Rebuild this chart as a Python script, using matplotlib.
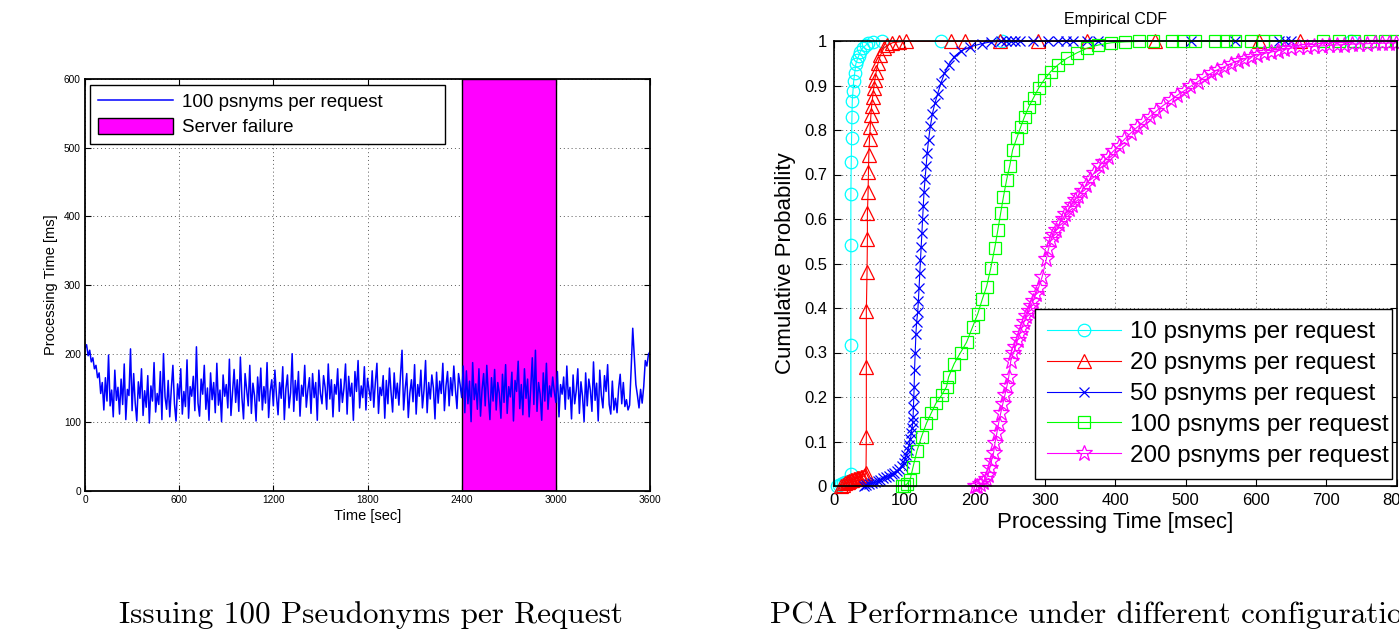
import numpy as np
import matplotlib
matplotlib.use('Agg')
import matplotlib.pyplot as plt

plt.rcParams['font.family'] = ['Liberation Sans', 'DejaVu Sans']

# ---- left panel: processing time, one sample every 10 s ----
sample_step = 10
proc_time = [
    208, 213, 197, 205, 188, 194, 178, 183, 165, 172, 142, 158, 118, 165, 131, 198, 124, 147, 108, 176,
    132, 151, 112, 163, 126, 185, 104, 148, 139, 207, 117, 171, 128, 102, 159, 135, 178, 110, 146, 122,
    168, 99, 153, 131, 187, 115, 142, 126, 174, 104, 200, 137, 119, 161, 108, 149, 183, 127, 102, 156,
    134, 178, 112, 145, 123, 191, 106, 152, 138, 167, 117, 210, 128, 109, 163, 141, 183, 119, 150, 103,
    172, 133, 158, 114, 186, 125, 147, 101, 169, 138, 155, 121, 192, 110, 144, 177, 129, 162, 116, 195,
    136, 105, 171, 148, 124, 183, 113, 157, 139, 102, 166, 131, 179, 118, 152, 128, 187, 107, 145, 162,
    124, 176, 139, 111, 158, 135, 181, 104, 149, 169, 121, 143, 200, 116, 161, 132, 174, 109, 154, 138,
    183, 122, 147, 165, 113, 171, 136, 158, 103, 176, 142, 127, 168, 151, 119, 185, 134, 162, 108, 155,
    141, 178, 116, 163, 129, 150, 185, 112, 167, 138, 157, 103, 174, 145, 190, 121, 153, 136, 181, 118,
    164, 147, 132, 175, 122, 158, 186, 113, 151, 139, 168, 106, 161, 127, 179, 144, 115, 172, 135, 157,
    125, 168, 205, 118, 149, 171, 107, 143, 162, 130, 184, 112, 155, 138, 176, 121, 147, 190, 114, 158,
    134, 169, 150, 105, 173, 128, 160, 142, 186, 117, 153, 174, 124, 165, 139, 182, 148, 120, 171, 155,
    136, 182, 114, 175, 127, 160, 101, 187, 133, 156, 119, 178, 109, 148, 171, 124, 183, 139, 104, 165,
    131, 177, 118, 158, 142, 106, 170, 129, 184, 113, 152, 137, 173, 102, 161, 145, 189, 120, 155, 111,
    178, 135, 163, 108, 149, 194, 126, 205, 116, 158, 141, 103, 172, 131, 186, 119, 153, 137, 166, 145,
    129, 174, 108, 155, 141, 166, 119, 182, 134, 151, 105, 169, 127, 146, 178, 113, 159, 138, 101, 172,
    124, 163, 147, 116, 188, 132, 157, 102, 176, 139, 121, 168, 145, 184, 126, 112, 160, 118, 135, 114,
    149, 170, 127, 158, 123, 133, 118, 125, 178, 237, 196, 155, 139, 121, 148, 128, 152, 190, 182, 199,
    203,
]
failure_start, failure_end = 2400, 3000
left_xticks = [0, 600, 1200, 1800, 2400, 3000, 3600]
left_yticks = [0, 100, 200, 300, 400, 500, 600]

# ---- right panel: empirical CDFs (msec, probability) ----
cdf10_ms = [4, 7, 10, 13, 16, 19, 21, 24, 24, 24, 24, 24.5, 25, 25.5, 26, 27, 28, 29.5, 31, 33, 35,
            37.5, 41, 45, 49, 56, 68, 152, 239, 735]
cdf10_p = [0.0, 0.002, 0.004, 0.006, 0.008, 0.01, 0.012, 0.027, 0.316, 0.542, 0.656, 0.727, 0.782,
           0.829, 0.866, 0.888, 0.910, 0.929, 0.948, 0.958, 0.966, 0.976, 0.985, 0.990, 0.996, 0.998,
           0.999, 0.9993, 0.9996, 1.0]

cdf20_ms = [10, 13, 16, 18, 20, 22, 24, 26, 28, 30, 32, 34, 36, 38, 40, 42, 44, 45.5, 46, 46, 46,
            47, 47.5, 47.5, 48.5, 49, 49.5, 50.5, 51.5, 52.5, 53.5, 55, 56.5, 58, 60, 62.5, 66, 71,
            76, 83, 92, 103, 167, 186, 236, 290, 360, 457, 605, 663]
cdf20_p = [0.0, 0.003, 0.006, 0.008, 0.01, 0.012, 0.013, 0.014, 0.015, 0.016, 0.017, 0.018, 0.019,
           0.02, 0.021, 0.022, 0.024, 0.03, 0.11, 0.267, 0.394, 0.482, 0.554, 0.613, 0.661, 0.706,
           0.744, 0.779, 0.807, 0.834, 0.854, 0.875, 0.894, 0.912, 0.931, 0.950, 0.968, 0.984, 0.990,
           0.996, 0.998, 0.999, 0.9992, 0.9994, 0.9995, 0.9996, 0.9997, 0.9998, 0.9999, 1.0]

cdf50_ms = [42, 46, 50, 54, 58, 62, 66, 70, 74, 78, 82, 86, 90, 93, 96, 99, 101, 103, 105, 107,
            108.5, 110, 111, 112, 112.5, 113, 113.5, 114, 114.5, 115.5, 116.5, 117.5, 119, 120, 121,
            122, 123, 124, 125, 126, 127, 128, 129.5, 131, 132.5, 134.5, 137, 140, 143.5, 147.5, 152,
            157, 163, 171, 181, 194, 210, 223, 237, 245, 252, 258, 264, 283, 305, 318, 330, 340, 360,
            376, 508, 571, 633, 641, 650]
cdf50_p = [0.0, 0.002, 0.004, 0.006, 0.008, 0.011, 0.014, 0.017, 0.02, 0.023, 0.026, 0.030, 0.034,
           0.039, 0.045, 0.052, 0.06, 0.07, 0.08, 0.092, 0.105, 0.118, 0.13, 0.143, 0.155, 0.178, 0.2,
           0.222, 0.26, 0.30, 0.342, 0.368, 0.39, 0.416, 0.446, 0.478, 0.508, 0.538, 0.568, 0.6, 0.63,
           0.66, 0.69, 0.718, 0.748, 0.778, 0.808, 0.837, 0.86, 0.882, 0.905, 0.927, 0.947, 0.965,
           0.978, 0.987, 0.994, 0.998, 0.999, 0.9991, 0.9992, 0.9993, 0.9994, 0.9995, 0.9996, 0.9997,
           0.9997, 0.9998, 0.9998, 0.9999, 0.9999, 0.9999, 1.0, 1.0, 1.0]

cdf100_ms = [96, 100, 104, 108, 112.5, 118, 124.5, 131.5, 138, 145, 153, 160, 163, 171, 180, 188.5,
             197, 204.5, 211, 217, 223, 228.5, 233, 237, 241, 245.5, 250, 254, 260, 265.5, 271, 277,
             284, 291, 299, 308, 319, 331, 345, 360, 376, 394, 414, 434, 454, 480, 497, 514, 542, 557,
             571, 593, 610, 627, 696, 718, 740, 762, 784, 799]
cdf100_p = [0.0, 0.0, 0.005, 0.013, 0.043, 0.079, 0.111, 0.141, 0.163, 0.186, 0.204, 0.223, 0.245,
            0.275, 0.30, 0.323, 0.357, 0.387, 0.42, 0.448, 0.49, 0.534, 0.575, 0.613, 0.65, 0.688,
            0.72, 0.755, 0.782, 0.807, 0.83, 0.852, 0.873, 0.894, 0.913, 0.931, 0.947, 0.961, 0.973,
            0.984, 0.991, 0.996, 0.998, 0.999, 0.9992, 0.9993, 0.9994, 0.9995, 0.9996, 0.9996, 0.9997,
            0.9997, 0.9998, 0.9998, 0.9999, 0.9999, 0.9999, 1.0, 1.0, 1.0]

cdf200_ms = [200, 204, 208, 212, 216, 219, 221.5, 224, 227, 229, 231.5, 234, 237, 240, 243, 246,
             248.5, 251.5, 255, 258, 261, 264, 267, 270, 273.5, 277, 280, 283, 287, 291, 296,
             302, 305, 308.5, 312, 316, 320, 325, 329, 334, 338, 343, 347, 352, 358, 364, 370, 377,
             383, 390, 397, 405, 413, 422, 431, 440, 449, 458, 468, 479, 488, 498, 507, 517, 526,
             536, 545, 555, 564, 574, 583, 593, 602, 612, 621, 631, 640, 650, 661, 672, 683, 694,
             704, 715, 725, 736, 747, 758, 769, 780, 790, 799]
cdf200_p = [0.0, 0.0, 0.004, 0.008, 0.015, 0.025, 0.04, 0.057, 0.075, 0.097, 0.118, 0.14, 0.163,
            0.184, 0.204, 0.225, 0.245, 0.282, 0.298, 0.312, 0.328, 0.342, 0.355, 0.368, 0.381,
            0.394, 0.405, 0.416, 0.431, 0.446, 0.47,
            0.51, 0.532, 0.553, 0.565, 0.575, 0.588, 0.6, 0.611, 0.622, 0.632, 0.643, 0.652, 0.662,
            0.676, 0.69, 0.704, 0.718, 0.729, 0.74, 0.752, 0.765, 0.779, 0.793, 0.806, 0.818, 0.830,
            0.842, 0.855, 0.867, 0.878, 0.888, 0.898, 0.908, 0.918, 0.927, 0.935, 0.942, 0.949,
            0.955, 0.960, 0.965, 0.969, 0.972, 0.975, 0.978, 0.981, 0.984, 0.9855, 0.987, 0.988,
            0.989, 0.990, 0.991, 0.992, 0.993, 0.9935, 0.994, 0.9945, 0.995, 0.9955, 0.996]

cdf_labels = ['10 psnyms per request', '20 psnyms per request', '50 psnyms per request',
              '100 psnyms per request', '200 psnyms per request']
right_yticks = [0, 0.1, 0.2, 0.3, 0.4, 0.5, 0.6, 0.7, 0.8, 0.9, 1]
right_yticklabels = ['0', '0.1', '0.2', '0.3', '0.4', '0.5', '0.6', '0.7', '0.8', '0.9', '1']
right_xticks = [0, 100, 200, 300, 400, 500, 600, 700, 800]

W, H = 1399, 631
fig = plt.figure(figsize=(W / 100, H / 100), dpi=100)


def box(x0, y0, x1, y1):
    # pixel box (top-left origin) -> figure fraction
    return [x0 / W, 1 - y1 / H, (x1 - x0) / W, (y1 - y0) / H]


grid_kw = dict(linestyle=(0, (1, 3)), color='0.35', linewidth=0.7)

# ---------------- left ----------------
ax1 = fig.add_axes(box(85, 79, 650, 491))
t = np.arange(len(proc_time)) * sample_step
ax1.set_axisbelow(True)
ax1.axvspan(failure_start, failure_end, facecolor='#ff00ff', edgecolor='black', linewidth=1.0,
            label='Server failure', zorder=1)
ax1.plot(t, proc_time, color='#0000ff', linewidth=1.1, label='100 psnyms per request', zorder=2)
ax1.set_xlim(0, 3600)
ax1.set_ylim(0, 600)
ax1.set_xticks(left_xticks)
ax1.set_yticks(left_yticks)
ax1.grid(True, **grid_kw)
ax1.tick_params(direction='in', top=True, right=True, length=4, labelsize=7.3, pad=3)
for s in ax1.spines.values():
    s.set_linewidth(1.3)
ax1.set_xlabel('Time [sec]', fontsize=10.5, labelpad=3)
ax1.set_ylabel('Processing Time [ms]', fontsize=10.5, labelpad=4)
h, l = ax1.get_legend_handles_labels()
leg1 = ax1.legend(h[::-1], l[::-1], loc='upper left', mode='expand',
                  bbox_to_anchor=(90 / W, 1 - 85 / H - 0.01, 355 / W, 0.01),
                  bbox_transform=fig.transFigure,
                  borderaxespad=0, fontsize=13.5, handlelength=4.0, handleheight=1.0,
                  labelspacing=0.33, handletextpad=0.5, borderpad=0.4,
                  fancybox=False, edgecolor='black', framealpha=1)
leg1.get_frame().set_linewidth(1.0)

# ---------------- right ----------------
ax2 = fig.add_axes(box(834, 41, 1396.5, 486))
styles = [('#00ffff', 'o', 9), ('#ff0000', '^', 10), ('#0000ff', 'x', 7.5),
          ('#00ff00', 's', 8), ('#ff00ff', '*', 12)]
series = [(cdf10_ms, cdf10_p), (cdf20_ms, cdf20_p), (cdf50_ms, cdf50_p),
          (cdf100_ms, cdf100_p), (cdf200_ms, cdf200_p)]
for (xs, ps), (c, m, ms), lab in zip(series, styles, cdf_labels):
    ax2.plot(xs, ps, color=c, marker=m, markersize=ms, markerfacecolor='none',
             markeredgewidth=0.9, linewidth=0.8, label=lab, clip_on=False)
ax2.set_xlim(0, 800)
ax2.set_ylim(0, 1)
ax2.set_xticks(right_xticks)
ax2.set_yticks(right_yticks)
ax2.set_yticklabels(right_yticklabels)
ax2.grid(True, **grid_kw)
ax2.tick_params(direction='in', top=True, right=True, length=5, labelsize=12, pad=5)
for s in ax2.spines.values():
    s.set_linewidth(1.2)
ax2.set_xlabel('Processing Time [msec]', fontsize=16, labelpad=3)
ax2.set_ylabel('Cumulative Probability', fontsize=16, labelpad=6)
ax2.set_title('Empirical CDF', fontsize=11.5, pad=12)
leg2 = ax2.legend(loc='upper left', mode='expand',
                  bbox_to_anchor=(1035 / W, 1 - 309 / H - 0.01, 357 / W, 0.01),
                  bbox_transform=fig.transFigure,
                  borderaxespad=0, fontsize=17.4, handlelength=3.05, labelspacing=0.37,
                  handletextpad=0.4, borderpad=0.5, fancybox=False, edgecolor='black',
                  framealpha=1)
leg2.get_frame().set_linewidth(1.0)

# ---------------- captions ----------------
fig.text(371 / W, 1 - 615 / H, 'Issuing 100 Pseudonyms per Request', ha='center', va='center',
         fontfamily='cmr10', fontsize=22.4)
fig.text(770 / W, 1 - 615 / H, 'PCA Performance under different configurations', ha='left',
         va='center', fontfamily='cmr10', fontsize=22.4)

fig.savefig('out.png', dpi=100)
